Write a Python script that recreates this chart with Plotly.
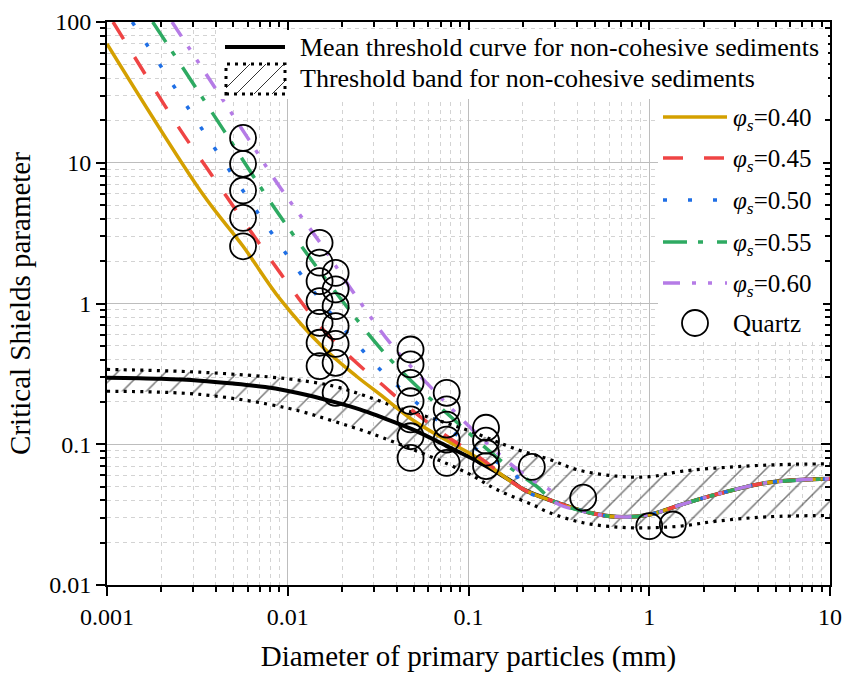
import plotly.graph_objects as go

# ---------------- data ----------------
TAIL_D = [0.2, 0.3, 0.47, 0.66, 1.0, 1.5, 2.35, 4.5, 10.0]
TAIL_V = [0.048, 0.039, 0.0326, 0.0305, 0.0316, 0.0372, 0.044, 0.0533, 0.0568]

MEAN_D = [0.001, 0.002, 0.00327, 0.005, 0.0075, 0.0099, 0.0135, 0.0172, 0.025, 0.0324, 0.0494, 0.0758, 0.116, 0.177]
MEAN_V = [0.297, 0.292, 0.283, 0.27, 0.255, 0.24, 0.22, 0.203, 0.177, 0.157, 0.127, 0.097, 0.074, 0.0535]

PHI40_D = [0.001, 0.0034, 0.00566, 0.0091, 0.0157, 0.0241, 0.0324, 0.0494, 0.075, 0.116]
PHI40_V = [70, 5.95, 2.55, 1.07, 0.487, 0.303, 0.226, 0.148, 0.107, 0.078]

PHI45_D = [0.00108, 0.00254, 0.00356, 0.00908, 0.0157, 0.024, 0.0324, 0.0494, 0.0758, 0.116]
PHI45_V = [100, 17.2, 9.2, 1.65, 0.653, 0.379, 0.273, 0.172, 0.114, 0.08]

PHI50_D = [0.00138, 0.00341, 0.00986, 0.0172, 0.0262, 0.0324, 0.0516, 0.0666, 0.111, 0.185]
PHI50_V = [100, 16.8, 2.23, 0.86, 0.458, 0.34, 0.197, 0.15, 0.092, 0.059]

PHI55_D = [0.00179, 0.0044, 0.0073, 0.0107, 0.0179, 0.033, 0.0494, 0.0792, 0.156, 0.238]
PHI55_V = [100, 17.2, 6.3, 3.09, 1.26, 0.47, 0.273, 0.158, 0.074, 0.0503]

PHI60_D = [0.00229, 0.00593, 0.0091, 0.0151, 0.0235, 0.0375, 0.065, 0.126, 0.21, 0.294]
PHI60_V = [100, 15.4, 6.64, 2.7, 1.16, 0.51, 0.238, 0.102, 0.059, 0.045]

BAND_UP_D = [0.001, 0.00327, 0.0099, 0.0179, 0.0273, 0.0418, 0.0636, 0.1018, 0.185, 0.281, 0.398, 0.66, 1.0, 1.53, 2.9, 5.5, 10]
BAND_UP_V = [0.34, 0.325, 0.292, 0.259, 0.219, 0.18, 0.152, 0.124, 0.092, 0.078, 0.066, 0.0593, 0.0588, 0.0644, 0.069, 0.0718, 0.0725]

BAND_LO_D = [0.001, 0.00327, 0.0099, 0.0179, 0.0337, 0.098, 0.143, 0.228, 0.281, 0.43, 0.66, 1.0, 1.53, 2.35, 4.5, 10]
BAND_LO_V = [0.238, 0.226, 0.181, 0.146, 0.111, 0.0627, 0.0477, 0.037, 0.0326, 0.0277, 0.0258, 0.0255, 0.0263, 0.0284, 0.0305, 0.0312]

QUARTZ_D = ([0.00566] * 5 + [0.015] * 7 + [0.0184] * 7 + [0.0478] * 7 + [0.0757] * 5
            + [0.125] * 4 + [0.224, 0.431, 1.0, 1.35])
QUARTZ_V = ([15.0, 9.83, 6.35, 4.06, 2.55]
            + [2.70, 1.95, 1.44, 1.04, 0.729, 0.526, 0.359]
            + [1.65, 1.26, 0.957, 0.69, 0.517, 0.379, 0.232]
            + [0.471, 0.369, 0.273, 0.202, 0.150, 0.114, 0.080]
            + [0.232, 0.177, 0.138, 0.108, 0.0738]
            + [0.131, 0.106, 0.087, 0.070]
            + [0.069, 0.0417, 0.0262, 0.0269])

PHI_LABELS = ["0.40", "0.45", "0.50", "0.55", "0.60"]
X_TICKS = [0.001, 0.01, 0.1, 1, 10]
X_TICKTEXT = ["0.001", "0.01", "0.1", "1", "10"]
Y_TICKS = [0.01, 0.1, 1, 10, 100]
Y_TICKTEXT = ["0.01", "0.1", "1", "10", "100"]

# ---------------- styling ----------------
FONT = "Liberation Serif, Times New Roman, serif"
COLORS = ["#D4A000", "#EF4444", "#1F6FE5", "#2EAA62", "#B57BE6"]
DASHES = ["solid", "20px,21px", "4px,21px", "24px,11px,5px,14px", "17px,12px,4px,12px,4px,13px"]
W, H = 844, 673
X0, X1, Y0, Y1 = 107, 830, 22, 585


def with_tail(d, v):
    dd, vv = list(d), list(v)
    for td, tv in zip(TAIL_D, TAIL_V):
        if td > dd[-1]:
            dd.append(td)
            vv.append(tv)
    return dd, vv


def xp(px):
    return (px - X0) / (X1 - X0)


def yp(py):
    return (Y1 - py) / (Y1 - Y0)


fig = go.Figure()

# threshold band
fig.add_trace(go.Scatter(x=BAND_LO_D, y=BAND_LO_V, mode="lines", line_shape="spline",
                         line=dict(color="black", width=3.2, dash="3px,5.3px"),
                         showlegend=False, hoverinfo="skip"))
fig.add_trace(go.Scatter(x=BAND_UP_D, y=BAND_UP_V, mode="lines", line_shape="spline",
                         line=dict(color="black", width=3.2, dash="3px,5.3px"),
                         fill="tonexty", fillcolor="rgba(0,0,0,0)",
                         fillpattern=dict(shape="/", size=17, solidity=0.09, fgcolor="black",
                                          bgcolor="rgba(0,0,0,0)"),
                         showlegend=False, hoverinfo="skip"))

# mean curve
md, mv = with_tail(MEAN_D, MEAN_V)
fig.add_trace(go.Scatter(x=md, y=mv, mode="lines", line_shape="spline",
                         line=dict(color="black", width=4), showlegend=False))

# phi curves
for (d, v), c, dsh in zip([(PHI40_D, PHI40_V), (PHI45_D, PHI45_V), (PHI50_D, PHI50_V),
                           (PHI55_D, PHI55_V), (PHI60_D, PHI60_V)], COLORS, DASHES):
    dd, vv = with_tail(d, v)
    fig.add_trace(go.Scatter(x=dd, y=vv, mode="lines", line_shape="spline",
                             line=dict(color=c, width=3.5, dash=dsh), showlegend=False))

# quartz points
fig.add_trace(go.Scatter(x=QUARTZ_D, y=QUARTZ_V, mode="markers",
                         marker=dict(symbol="circle-open", size=26, color="black",
                                     line=dict(width=1.8)), showlegend=False))

# empty trace to hold the mirrored top/right axes
fig.add_trace(go.Scatter(x=[], y=[], xaxis="x2", yaxis="y2", showlegend=False))

minor_x = [m * 10 ** e for e in range(-3, 1) for m in range(2, 10)]
minor_y = [m * 10 ** e for e in range(-2, 2) for m in range(2, 10)]

axis_common = dict(type="log", showline=True, linecolor="black", linewidth=2,
                   zeroline=False, tickcolor="black", tickwidth=1.5, automargin=False,
                   tickfont=dict(family=FONT, size=24, color="black"))

fig.update_layout(
    width=W, height=H, margin=dict(l=X0, r=W - X1, t=Y0, b=H - Y1),
    paper_bgcolor="white", plot_bgcolor="white",
    font=dict(family=FONT, color="black"),
    xaxis=dict(range=[-3, 1], tickmode="array", tickvals=X_TICKS, ticktext=X_TICKTEXT,
               ticks="outside", ticklen=9, showgrid=True, gridcolor="#bdbdbd", gridwidth=1,
               minor=dict(tickmode="array", tickvals=minor_x, ticks="outside", ticklen=5,
                          tickwidth=1.5, tickcolor="black", showgrid=True,
                          gridcolor="#d3d3d3", griddash="4px,4px", gridwidth=1),
               title=dict(text="Diameter of primary particles (mm)",
                          font=dict(family=FONT, size=29), standoff=20),
               **axis_common),
    yaxis=dict(range=[-2, 2], tickmode="array", tickvals=Y_TICKS, ticktext=Y_TICKTEXT,
               ticks="outside", ticklen=9, showgrid=True, gridcolor="#bdbdbd", gridwidth=1,
               minor=dict(tickmode="array", tickvals=minor_y, ticks="outside", ticklen=5,
                          tickwidth=1.5, tickcolor="black", showgrid=True,
                          gridcolor="#d3d3d3", griddash="4px,4px", gridwidth=1),
               title=dict(text="Critical Shields parameter",
                          font=dict(family=FONT, size=29), standoff=10),
               **axis_common),
    xaxis2=dict(range=[-3, 1], overlaying="x", side="top", anchor="y2",
                tickmode="array", tickvals=X_TICKS, ticks="inside", ticklen=9,
                showticklabels=False, showgrid=False,
                minor=dict(tickmode="array", tickvals=minor_x, ticks="inside", ticklen=5,
                           tickwidth=1.5, tickcolor="black", showgrid=False),
                **axis_common),
    yaxis2=dict(range=[-2, 2], overlaying="y", side="right", anchor="x2",
                tickmode="array", tickvals=Y_TICKS, ticks="inside", ticklen=9,
                showticklabels=False, showgrid=False,
                minor=dict(tickmode="array", tickvals=minor_y, ticks="inside", ticklen=5,
                           tickwidth=1.5, tickcolor="black", showgrid=False),
                **axis_common),
    showlegend=False,
)

shapes = []
annotations = []

# ---- legend 1 (top) ----
shapes.append(dict(type="rect", xref="paper", yref="paper", x0=xp(218), x1=xp(828),
                   y0=yp(99), y1=yp(30), fillcolor="white", line=dict(width=0), layer="above"))
shapes.append(dict(type="line", xref="paper", yref="paper", x0=xp(225), x1=xp(285),
                   y0=yp(47), y1=yp(47), line=dict(color="black", width=4), layer="above"))
shapes.append(dict(type="rect", xref="paper", yref="paper", x0=xp(226), x1=xp(285),
                   y0=yp(94), y1=yp(64), fillcolor="rgba(0,0,0,0)",
                   line=dict(color="black", width=3, dash="3px,5px"), layer="above"))
for (ax, ay, bx, by) in [(226, 88, 250, 64), (236, 94, 266, 64), (254, 94, 284, 64), (272, 94, 285, 81)]:
    shapes.append(dict(type="line", xref="paper", yref="paper", x0=xp(ax), y0=yp(ay),
                       x1=xp(bx), y1=yp(by), line=dict(color="black", width=0.8), layer="above"))
annotations.append(dict(text="Mean threshold curve for non-cohesive sediments", xref="paper",
                        yref="paper", x=xp(298), y=yp(47), xanchor="left", yanchor="middle",
                        showarrow=False, font=dict(family=FONT, size=26, color="black")))
annotations.append(dict(text="Threshold band for non-cohesive sediments", xref="paper",
                        yref="paper", x=xp(298), y=yp(79), xanchor="left", yanchor="middle",
                        showarrow=False, font=dict(family=FONT, size=26, color="black")))

# ---- legend 2 (right) ----
shapes.append(dict(type="rect", xref="paper", yref="paper", x0=xp(658), x1=xp(823),
                   y0=yp(342), y1=yp(99), fillcolor="white", line=dict(width=0), layer="above"))
leg_y = [117, 158, 200, 242, 283]
for lab, c, dsh, ly in zip(PHI_LABELS, COLORS, DASHES, leg_y):
    shapes.append(dict(type="line", xref="paper", yref="paper", x0=xp(663), x1=xp(727),
                       y0=yp(ly), y1=yp(ly), line=dict(color=c, width=3.5, dash=dsh),
                       layer="above"))
    annotations.append(dict(text="<i>φ<sub>s</sub></i>=" + lab, xref="paper", yref="paper",
                            x=xp(731), y=yp(ly + 2), xanchor="left", yanchor="middle",
                            showarrow=False, font=dict(family=FONT, size=25, color="black")))
shapes.append(dict(type="circle", xref="paper", yref="paper", x0=xp(682), x1=xp(708),
                   y0=yp(336), y1=yp(310), line=dict(color="black", width=1.8), layer="above"))
annotations.append(dict(text="Quartz", xref="paper", yref="paper", x=xp(731), y=yp(323),
                        xanchor="left", yanchor="middle", showarrow=False,
                        font=dict(family=FONT, size=25, color="black")))

fig.update_layout(shapes=shapes, annotations=annotations)
fig.write_html("out.html")
